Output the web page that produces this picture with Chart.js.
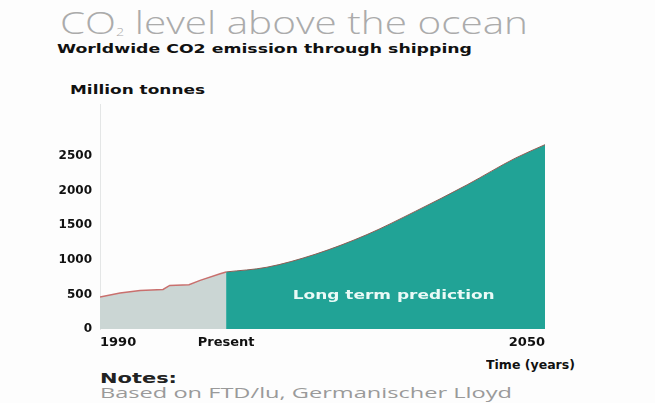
<!DOCTYPE html>
<html>
<head>
<meta charset="utf-8">
<script src="https://cdn.jsdelivr.net/npm/chart.js@4/dist/chart.umd.min.js"></script>
<style>
  html, body { margin:0; padding:0; background:#fdfdfd; }
  body { width:655px; height:403px; position:relative; overflow:hidden; font-family:"DejaVu Sans", sans-serif; }
  .t { position:absolute; white-space:nowrap; transform-origin:0 50%; line-height:1; }
  #title { font-family:"Open Sans","Lato",sans-serif; font-weight:300; font-size:31px; color:#ababab; }
  #title sub { font-size:11px; vertical-align:-2px; }
  #sub { font-weight:bold; font-size:13px; color:#111; }
  #unit { font-weight:bold; font-size:12px; color:#111; }
  #xt { font-weight:bold; font-size:12px; color:#111; }
  #notes { font-weight:bold; font-size:14px; color:#222; }
  #src { font-family:"Open Sans",sans-serif; font-size:14px; color:#9a9a9a; }
  #wrap { position:absolute; left:40px; top:89px; width:580px; height:273px; }
</style>
</head>
<body>
<div class="t" id="title" data-x="60" data-y="22" data-w="468">CO<sub>2</sub> level above the ocean</div>
<div class="t" id="sub" data-x="57" data-y="48" data-w="415">Worldwide CO2 emission through shipping</div>
<div class="t" id="unit" data-x="70" data-y="90" data-w="135">Million tonnes</div>
<div class="t" id="xt" data-x="486" data-y="365" data-w="89">Time (years)</div>
<div class="t" id="notes" data-x="100" data-y="378" data-w="77">Notes:</div>
<div class="t" id="src" data-x="100" data-y="393" data-w="412">Based on  FTD/lu, Germanischer Lloyd</div>
<div id="wrap"><canvas id="c"></canvas></div>
<script>
// ---- data ----
const histYears = [1990, 1992.7, 1995.4, 1998.5, 1999.4, 2002, 2003.5, 2006.2, 2007];
const histValues = [461, 519, 558, 572, 630, 640, 703, 800, 825];
const predYears = [2007, 2012.5, 2019, 2026, 2032.5, 2039.5, 2046, 2050];
const predValues = [825, 893, 1080, 1365, 1700, 2085, 2470, 2665];
const xTickYears = [1990, 2007, 2050];
const xTickLabels = ['1990', 'Present', '2050'];
const yTickValues = [0, 500, 1000, 1500, 2000, 2500];
const areaLabel = 'Long term prediction';
const areaLabelPos = [2029.6, 479];

// position html texts, stretched to measured widths
document.querySelectorAll('.t').forEach(el => {
  const r = el.getBoundingClientRect();
  const s = (+el.dataset.w) / r.width;
  el.style.left = el.dataset.x + 'px';
  el.style.top = (+el.dataset.y - r.height / 2) + 'px';
  el.style.transform = 'scaleX(' + s + ')';
});

const labelPlugin = {
  id: 'areaLabel',
  afterDatasetsDraw(chart) {
    const {ctx, scales} = chart;
    const x = scales.x.getPixelForValue(areaLabelPos[0]);
    const y = scales.y.getPixelForValue(areaLabelPos[1]);
    ctx.save();
    ctx.font = 'bold 13px "DejaVu Sans"';
    const w = ctx.measureText(areaLabel).width;
    const s = 202 / w;
    ctx.translate(x, y);
    ctx.scale(s, 1);
    ctx.fillStyle = '#eafaf7';
    ctx.textAlign = 'center';
    ctx.textBaseline = 'middle';
    ctx.fillText(areaLabel, 0, 0);
    ctx.restore();
  }
};

new Chart(document.getElementById('c'), {
  type: 'line',
  data: {
    datasets: [
      {
        data: histYears.map((x, i) => ({x, y: histValues[i]})),
        borderColor: '#c9706e',
        borderWidth: 1.5,
        backgroundColor: 'rgb(203,214,212)',
        fill: 'origin',
        pointRadius: 0,
        tension: 0
      },
      {
        data: predYears.map((x, i) => ({x, y: predValues[i]})),
        borderColor: '#8e5e55',
        borderWidth: 1,
        backgroundColor: 'rgb(33,163,150)',
        fill: 'origin',
        pointRadius: 0,
        cubicInterpolationMode: 'monotone'
      }
    ]
  },
  options: {
    responsive: true,
    maintainAspectRatio: false,
    animation: false,
    layout: { padding: { top: 5, right: 75, left: 0, bottom: 0 } },
    plugins: { legend: { display: false }, tooltip: { enabled: false } },
    scales: {
      x: {
        type: 'linear',
        min: 1990, max: 2050,
        grid: { display: false, drawTicks: false },
        border: { display: false },
        afterBuildTicks(scale) { scale.ticks = xTickYears.map(v => ({value: v})); },
        afterFit(scale) { scale.height = 33; },
        ticks: {
          align: 'inner',
          padding: 6,
          color: '#111',
          font: { family: 'DejaVu Sans', weight: 'bold', size: 13 },
          callback(v) { const i = xTickYears.indexOf(v); return i >= 0 ? xTickLabels[i] : ''; }
        }
      },
      y: {
        min: 0, max: 3250,
        grid: { display: false, drawTicks: false },
        border: { display: true, color: '#e4e6e6', width: 1 },
        afterBuildTicks(scale) { scale.ticks = yTickValues.map(v => ({value: v})); },
        afterFit(scale) { scale.width = 60; },
        ticks: {
          padding: 8,
          color: '#111',
          font: { family: 'DejaVu Sans', weight: 'bold', size: 12 },
          callback(v) { return String(v); }
        }
      }
    }
  },
  plugins: [labelPlugin]
});
</script>
</body>
</html>
